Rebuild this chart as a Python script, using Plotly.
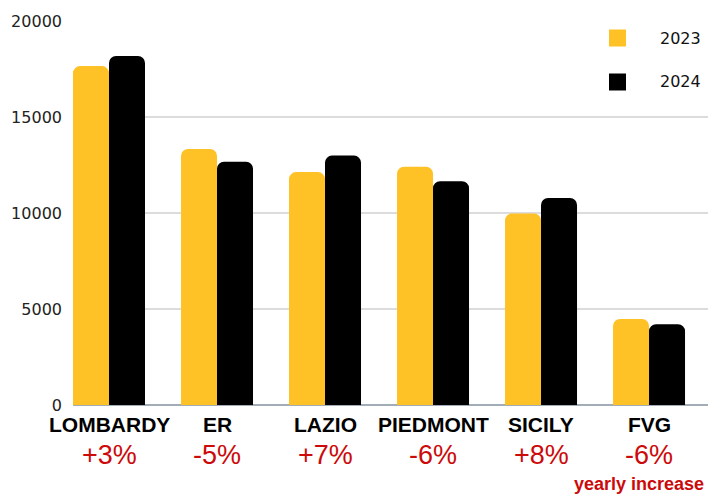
import plotly.graph_objects as go

# Regional totals by year
regions = ["LOMBARDY", "ER", "LAZIO", "PIEDMONT", "SICILY", "FVG"]
values_2023 = [17650, 13330, 12130, 12410, 9980, 4480]
values_2024 = [18180, 12670, 12990, 11660, 10780, 4210]
yearly_change = ["+3%", "-5%", "+7%", "-6%", "+8%", "-6%"]
y_ticks = [0, 5000, 10000, 15000, 20000]

YELLOW = "#FFC226"
BLACK = "#000000"
RED = "#CC0A0A"

W, H = 708, 497
L, R, T, B = 73, 0, 21, 92

def px_x(x):
    return (x - L) / (W - L - R)

def px_y(y):
    return (H - B - y) / (H - T - B)

x_idx = list(range(len(regions)))

fig = go.Figure()
fig.add_trace(go.Bar(x=x_idx, y=values_2023, name="2023", marker_color=YELLOW,
                     marker_line_width=0))
fig.add_trace(go.Bar(x=x_idx, y=values_2024, name="2024", marker_color=BLACK,
                     marker_line_width=0))

annotations = []
for i, (name, chg) in enumerate(zip(regions, yearly_change)):
    annotations.append(dict(x=i, y=px_y(424), xref="x", yref="paper", text=f"<b>{name}</b>",
                            showarrow=False, xanchor="center", yanchor="middle",
                            font=dict(family="Liberation Sans", size=21, color="#000")))
    annotations.append(dict(x=i, y=px_y(455), xref="x", yref="paper", text=chg,
                            showarrow=False, xanchor="center", yanchor="middle",
                            font=dict(family="Liberation Sans", size=27, color=RED)))

annotations.append(dict(x=px_x(706), y=px_y(496), xref="paper", yref="paper",
                        text="<b>yearly increase</b>", showarrow=False,
                        xanchor="right", yanchor="bottom",
                        font=dict(family="Liberation Sans", size=18, color=RED)))

# Legend drawn as swatches + labels
shapes = []
for label, color, yc in [("2023", YELLOW, 38), ("2024", BLACK, 82)]:
    shapes.append(dict(type="rect", xref="paper", yref="paper",
                       x0=px_x(609), x1=px_x(626), y0=px_y(yc - 8.5), y1=px_y(yc + 8.5),
                       fillcolor=color, line_width=0))
    annotations.append(dict(x=px_x(680), y=px_y(yc), xref="paper", yref="paper",
                            text=label, showarrow=False, xanchor="center", yanchor="middle",
                            font=dict(family="DejaVu Sans", size=16, color="#111")))

fig.update_layout(
    width=W, height=H,
    margin=dict(l=L, r=R, t=T, b=B, pad=0),
    paper_bgcolor="white", plot_bgcolor="white",
    barmode="group", bargap=1/3, bargroupgap=0,
    barcornerradius=7,
    showlegend=False,
    annotations=annotations,
    shapes=shapes,
    xaxis=dict(range=[-1/3, 5.546], showticklabels=False, showgrid=False,
               zeroline=False, showline=False, fixedrange=True),
    yaxis=dict(range=[0, 20000], tickvals=y_ticks, ticktext=[str(v) for v in y_ticks],
               showgrid=True, gridcolor="#DCDCDC", gridwidth=2,
               zeroline=True, zerolinecolor="#A3ADB8", zerolinewidth=2,
               tickfont=dict(family="DejaVu Sans", size=16, color="#222"),
               ticklabelstandoff=10, showline=False, fixedrange=True),
)

fig.write_html("out.html")
